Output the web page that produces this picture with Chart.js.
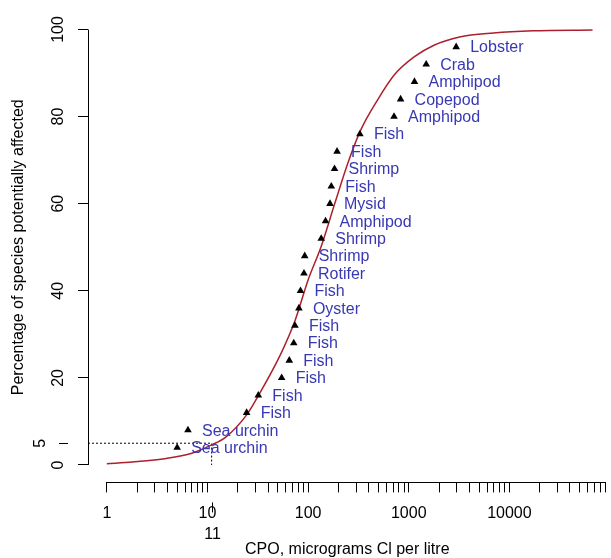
<!DOCTYPE html>
<html>
<head>
<meta charset="utf-8">
<script src="https://cdn.jsdelivr.net/npm/chart.js@4"></script>
<style>
  body { margin: 0; background: #fff; }
  canvas { display: block; }
</style>
</head>
<body>
<canvas id="ssdChart" width="611" height="558"></canvas>
<script>
// species toxicity points
const speciesNames = ['Sea urchin', 'Sea urchin', 'Fish', 'Fish', 'Fish', 'Fish', 'Fish', 'Fish',
    'Oyster', 'Fish', 'Rotifer', 'Shrimp', 'Shrimp', 'Amphipod', 'Mysid', 'Fish', 'Shrimp',
    'Fish', 'Fish', 'Amphipod', 'Copepod', 'Amphipod', 'Crab', 'Lobster'];
const speciesConc = [5.0, 6.4, 24.5, 32, 54.6, 65, 72, 74, 81, 84, 91, 92.5, 135, 149, 165, 170,
    183, 194, 327, 714, 830, 1140, 1490, 2960];
const speciesPercent = [4, 8, 12, 16, 20, 24, 28, 32, 36, 40, 44, 48, 52, 56, 60, 64, 68, 72, 76,
    80, 84, 88, 92, 96];

// fitted distribution curve
const curveConc = [1, 1.8, 3.9, 7, 11, 15.2, 24.5, 32.2, 54, 74.5, 100, 134, 185, 248, 333, 489,
    720, 1130, 1780, 3200, 6950, 17200, 67000];
const curvePercent = [0.3, 0.7, 1.5, 2.7, 4.6, 6.4, 11.5, 16, 25.7, 33.3, 42.5, 50, 60.2, 69.3,
    76.9, 83.8, 89.6, 93.7, 96.4, 98.3, 99.2, 99.7, 99.9];

// HC5 marker
const hc5Conc = 11;
const hc5Percent = 5;

// axes
const xTickValues = [1, 2, 3, 4, 5, 6, 7, 8, 9, 10, 20, 30, 40, 50, 60, 70, 80, 90,
    100, 200, 300, 400, 500, 600, 700, 800, 900, 1000, 2000, 3000, 4000, 5000, 6000, 7000, 8000, 9000,
    10000, 20000, 30000, 40000, 50000, 60000, 70000, 80000, 90000];
const xTickLabels = [1, 10, 100, 1000, 10000];
const yTickValues = [0, 20, 40, 60, 80, 100];
const xMin = 0.65, xMax = 92450;
const yMin = -4, yMax = 104;

const FONT = 'Arial, "Liberation Sans", sans-serif';
const labelBlue = '#3838b4';

const rStyleAxes = {
    id: 'rStyleAxes',
    afterDraw(chart) {
        const { ctx, chartArea } = chart;
        const x = chart.scales.x, y = chart.scales.y;
        ctx.save();
        ctx.strokeStyle = '#000';
        ctx.fillStyle = '#000';
        ctx.lineWidth = 1;

        // axis lines only between the outer ticks, like base R
        const xb = Math.round(chartArea.bottom) + 0.5;
        ctx.beginPath();
        ctx.moveTo(x.getPixelForValue(xTickValues[0]), xb);
        ctx.lineTo(x.getPixelForValue(xTickValues[xTickValues.length - 1]), xb);
        ctx.stroke();

        const yl = Math.round(chartArea.left) + 0.5;
        ctx.beginPath();
        ctx.moveTo(yl, y.getPixelForValue(yTickValues[0]));
        ctx.lineTo(yl, y.getPixelForValue(yTickValues[yTickValues.length - 1]));
        ctx.stroke();

        // rotated y tick labels
        ctx.font = '16px ' + FONT;
        ctx.textAlign = 'center';
        ctx.textBaseline = 'middle';
        yTickValues.forEach(v => {
            ctx.save();
            ctx.translate(chartArea.left - 29, y.getPixelForValue(v));
            ctx.rotate(-Math.PI / 2);
            ctx.fillText(String(v), 0, 0);
            ctx.restore();
        });

        // extra "5" axis further out
        const y5 = Math.round(y.getPixelForValue(hc5Percent)) + 0.5;
        ctx.beginPath();
        ctx.moveTo(chartArea.left - 29, y5);
        ctx.lineTo(chartArea.left - 20, y5);
        ctx.stroke();
        ctx.save();
        ctx.translate(chartArea.left - 47, y.getPixelForValue(hc5Percent));
        ctx.rotate(-Math.PI / 2);
        ctx.fillText(String(hc5Percent), 0, 0);
        ctx.restore();

        // extra "11" axis below
        const x11 = Math.round(x.getPixelForValue(hc5Conc)) + 0.5;
        ctx.beginPath();
        ctx.moveTo(x11, chartArea.bottom + 20);
        ctx.lineTo(x11, chartArea.bottom + 30);
        ctx.stroke();
        ctx.fillText(String(hc5Conc), x11, chartArea.bottom + 52);

        // species names next to the points
        ctx.fillStyle = labelBlue;
        ctx.textAlign = 'left';
        const meta = chart.getDatasetMeta(0);
        meta.data.forEach((pt, i) => {
            ctx.fillText(speciesNames[i], pt.x + 14, pt.y + 1);
        });
        ctx.restore();
    }
};

const ctx = document.getElementById('ssdChart').getContext('2d');
new Chart(ctx, {
    type: 'scatter',
    data: {
        datasets: [
            {
                label: 'Species',
                data: speciesConc.map((c, i) => ({ x: c, y: speciesPercent[i] })),
                pointStyle: 'triangle',
                radius: 4.4,
                backgroundColor: '#000',
                borderColor: '#000',
                borderWidth: 0,
                showLine: false
            },
            {
                label: 'Fit',
                data: curveConc.map((c, i) => ({ x: c, y: curvePercent[i] })),
                showLine: true,
                borderColor: '#ad1f2c',
                borderWidth: 1.5,
                pointRadius: 0,
                cubicInterpolationMode: 'monotone',
                fill: false
            },
            {
                label: 'HC5',
                data: [{ x: xMin, y: hc5Percent }, { x: hc5Conc, y: hc5Percent }, { x: hc5Conc, y: 0 }],
                showLine: true,
                borderColor: '#000',
                borderWidth: 1,
                borderDash: [2, 2],
                pointRadius: 0,
                fill: false
            }
        ]
    },
    options: {
        responsive: false,
        animation: false,
        layout: {
            padding: { top: 12.1, right: 0, bottom: 0, left: 0 }
        },
        plugins: {
            legend: { display: false },
            tooltip: { enabled: false }
        },
        scales: {
            x: {
                type: 'logarithmic',
                position: 'bottom',
                min: xMin,
                max: xMax,
                afterBuildTicks: (scale) => {
                    scale.ticks = xTickValues.map(v => ({ value: v }));
                },
                afterFit: (scale) => {
                    scale.height = 75.6;
                    scale.paddingLeft = 0;
                    scale.paddingRight = 0;
                },
                border: { display: false },
                grid: {
                    drawOnChartArea: false,
                    drawTicks: true,
                    tickLength: 10,
                    color: '#000',
                    lineWidth: 1
                },
                ticks: {
                    autoSkip: false,
                    maxRotation: 0,
                    minRotation: 0,
                    padding: 12,
                    color: '#000',
                    font: { size: 16, family: FONT },
                    callback: (value) => xTickLabels.includes(value) ? String(value) : ''
                },
                title: {
                    display: true,
                    text: 'CPO, micrograms Cl per litre',
                    color: '#000',
                    font: { size: 16, family: FONT },
                    padding: { top: 0, bottom: -1.5 }
                }
            },
            y: {
                type: 'linear',
                min: yMin,
                max: yMax,
                afterBuildTicks: (scale) => {
                    scale.ticks = yTickValues.map(v => ({ value: v }));
                },
                afterFit: (scale) => {
                    scale.width = 88;
                },
                border: { display: false },
                grid: {
                    drawOnChartArea: false,
                    drawTicks: true,
                    tickLength: 10,
                    color: '#000',
                    lineWidth: 1
                },
                ticks: { display: false },
                title: {
                    display: true,
                    text: 'Percentage of species potentially affected',
                    color: '#000',
                    font: { size: 16, family: FONT },
                    padding: { top: 9, bottom: 0 }
                }
            }
        }
    },
    plugins: [rStyleAxes]
});
</script>
</body>
</html>
